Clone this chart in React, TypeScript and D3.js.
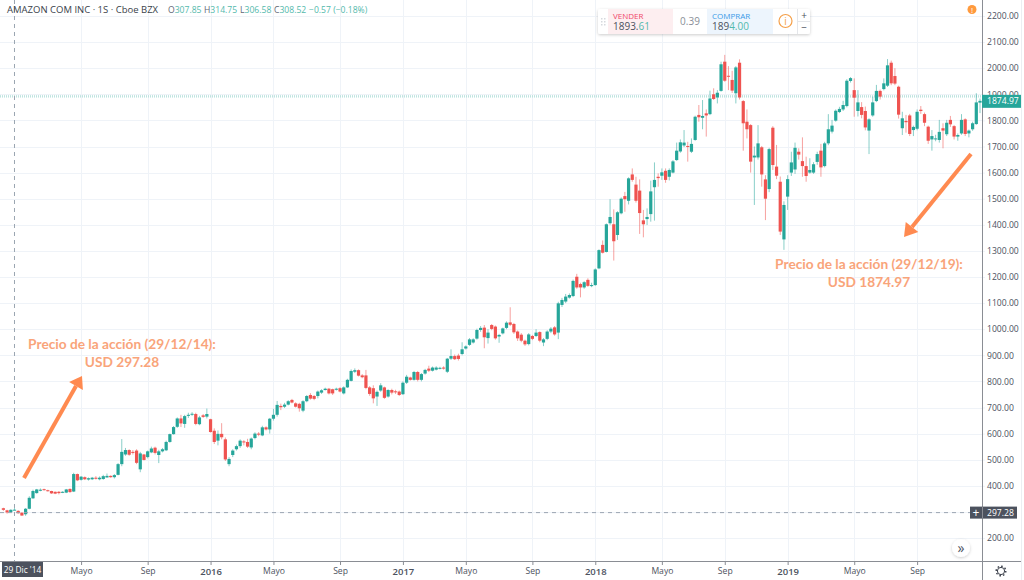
import { useEffect, useRef } from 'react';
import * as d3 from 'd3';

// weekly candles, first candle is three weeks before 29 Dic '14
const firstWeek = -3;

const openPrices = [
  314, 306, 299, 307.85, 304, 297, 291, 312, 352, 372,
  381, 387, 383, 380, 377, 377, 375, 374, 388, 378,
  445, 423, 433, 424, 425, 431, 425, 426, 432, 438,
  433, 442, 483, 520, 537, 530, 535, 463, 520, 510,
  528, 546, 518, 532, 536, 568, 598, 626, 658, 637,
  668, 674, 675, 636, 670, 665, 655, 611, 573, 599,
  578, 483, 518, 540, 552, 570, 568, 547, 583, 600,
  593, 624, 616, 657, 672, 706, 703, 711, 729, 716,
  714, 688, 724, 748, 744, 744, 757, 767, 772, 770,
  768, 774, 754, 777, 802, 837, 843, 823, 823, 777,
  774, 742, 765, 777, 742, 767, 762, 761, 751, 795,
  815, 806, 836, 806, 830, 849, 841, 845, 850, 853,
  837, 887, 897, 899, 905, 926, 940, 949, 964, 997,
  1006, 966, 1016, 1010, 972, 984, 1005, 1026, 1020, 991,
  979, 956, 943, 974, 974, 989, 949, 963, 991, 1007,
  987, 1093, 1106, 1121, 1127, 1201, 1173, 1160, 1189, 1167,
  1169, 1233, 1323, 1296, 1406, 1402, 1361, 1444, 1510, 1492,
  1593, 1554, 1531, 1417, 1422, 1441, 1544, 1584, 1588, 1607,
  1584, 1600, 1648, 1681, 1704, 1702, 1680, 1725, 1821, 1810,
  1827, 1824, 1900, 1888, 1913, 2025, 1971, 1955, 1904, 2021,
  1874, 1795, 1782, 1658, 1658, 1697, 1574, 1537, 1772, 1623,
  1565, 1344, 1508, 1600, 1612, 1680, 1644, 1625, 1600, 1600,
  1641, 1684, 1625, 1712, 1757, 1799, 1832, 1842, 1855, 1951,
  1916, 1836, 1851, 1836, 1761, 1819, 1874, 1913, 1920, 1933,
  2021, 1970, 1929, 1770, 1798, 1819, 1763, 1768, 1841, 1824,
  1776, 1727, 1729, 1725, 1770, 1747, 1802, 1778, 1738, 1750,
  1804, 1750, 1766, 1786, 1868,
];

const highPrices = [
  316, 308, 310, 314.75, 306, 298, 315, 360, 385, 388,
  390, 389, 385, 381, 378, 380, 379, 388, 390, 450,
  447, 437, 436, 432, 434, 437, 436, 442, 447, 440,
  445, 487, 579, 545, 540, 537, 540, 530, 522, 535,
  550, 550, 538, 545, 573, 600, 629, 662, 672, 672,
  680, 682, 680, 668, 675, 696, 657, 620, 612, 640,
  585, 510, 540, 558, 578, 575, 580, 585, 605, 606,
  630, 628, 660, 695, 725, 715, 718, 728, 733, 720,
  718, 728, 748, 755, 748, 765, 770, 776, 775, 772,
  776, 778, 781, 810, 846, 850, 846, 828, 844, 782,
  785, 765, 793, 780, 770, 772, 768, 765, 800, 825,
  818, 840, 840, 832, 848, 860, 857, 858, 856, 858,
  890, 923, 903, 906, 950, 938, 966, 965, 1002, 1012,
  1016, 1000, 1020, 1014, 982, 1006, 1030, 1084, 1024, 995,
  985, 960, 985, 978, 1000, 992, 966, 996, 1008, 1012,
  1105, 1120, 1135, 1137, 1190, 1212, 1178, 1184, 1195, 1178,
  1233, 1306, 1340, 1405, 1498, 1459, 1452, 1505, 1526, 1582,
  1616, 1584, 1574, 1457, 1463, 1569, 1639, 1597, 1616, 1616,
  1616, 1648, 1715, 1727, 1763, 1718, 1731, 1818, 1859, 1878,
  1842, 1914, 1923, 1916, 2025, 2051, 2008, 1990, 2008, 2034,
  1878, 1842, 1786, 1700, 1782, 1702, 1590, 1695, 1778, 1706,
  1585, 1490, 1590, 1680, 1715, 1693, 1735, 1661, 1655, 1640,
  1680, 1710, 1718, 1824, 1802, 1842, 1852, 1875, 1958, 1966,
  1961, 1916, 1870, 1853, 1808, 1891, 1936, 1918, 1961, 2035,
  2029, 2000, 1933, 1833, 1821, 1825, 1780, 1842, 1855, 1830,
  1780, 1763, 1745, 1802, 1789, 1802, 1817, 1782, 1750, 1824,
  1808, 1765, 1795, 1904, 1884,
];

const lowPrices = [
  304, 293, 298, 306.58, 293, 285, 285, 310, 350, 370,
  379, 382, 378, 369, 368, 367, 372, 372, 373, 376,
  418, 420, 422, 420, 422, 424, 421, 423, 431, 431,
  428, 440, 475, 515, 515, 520, 483, 452, 497, 505,
  525, 520, 487, 528, 533, 565, 596, 622, 625, 622,
  660, 668, 632, 632, 660, 658, 604, 560, 555, 578,
  495, 475, 510, 535, 545, 555, 545, 540, 578, 590,
  590, 612, 600, 650, 665, 690, 698, 708, 716, 700,
  684, 682, 720, 730, 728, 735, 752, 765, 750, 748,
  765, 758, 750, 775, 800, 832, 819, 812, 770, 745,
  716, 706, 760, 733, 738, 750, 752, 744, 748, 790,
  803, 803, 800, 800, 826, 836, 838, 842, 846, 845,
  832, 882, 882, 880, 900, 922, 936, 945, 960, 990,
  927, 945, 996, 960, 948, 980, 1000, 1012, 982, 955,
  950, 936, 938, 958, 970, 950, 935, 958, 985, 975,
  962, 1085, 1100, 1117, 1123, 1155, 1122, 1155, 1162, 1161,
  1166, 1230, 1290, 1294, 1400, 1263, 1342, 1440, 1450, 1478,
  1565, 1485, 1365, 1352, 1399, 1412, 1416, 1546, 1572, 1561,
  1570, 1597, 1645, 1676, 1698, 1642, 1675, 1722, 1795, 1766,
  1738, 1820, 1878, 1865, 1910, 1948, 1916, 1905, 1865, 1880,
  1684, 1731, 1600, 1476, 1650, 1546, 1418, 1525, 1610, 1575,
  1361, 1304, 1457, 1587, 1595, 1650, 1584, 1565, 1596, 1595,
  1630, 1584, 1620, 1705, 1750, 1795, 1828, 1836, 1850, 1945,
  1814, 1815, 1808, 1762, 1671, 1814, 1870, 1880, 1915, 1928,
  1935, 1935, 1807, 1744, 1753, 1740, 1740, 1762, 1825, 1778,
  1710, 1684, 1720, 1715, 1693, 1740, 1775, 1727, 1722, 1745,
  1740, 1735, 1760, 1783, 1828,
];

const closePrices = [
  308, 298, 308, 308.52, 295, 286, 312, 354, 380, 386,
  385, 384, 381, 371, 370, 372, 377, 386, 376, 445,
  421, 435, 425, 429, 431, 427, 431, 437, 438, 433,
  441, 483, 530, 537, 519, 526, 488, 524, 499, 532,
  543, 526, 532, 540, 568, 598, 625, 658, 639, 667,
  672, 676, 637, 662, 664, 675, 606, 568, 599, 586,
  501, 503, 535, 552, 573, 567, 550, 581, 600, 596,
  624, 616, 657, 672, 710, 701, 711, 724, 719, 703,
  697, 724, 744, 734, 733, 761, 766, 772, 754, 754,
  772, 761, 777, 806, 840, 843, 822, 816, 775, 752,
  735, 760, 785, 737, 767, 757, 760, 748, 795, 818,
  806, 836, 806, 828, 844, 841, 853, 853, 852, 849,
  887, 897, 885, 886, 923, 934, 961, 961, 997, 1005,
  969, 987, 1001, 965, 978, 1003, 1025, 1017, 988, 965,
  956, 942, 980, 963, 987, 956, 961, 991, 1002, 980,
  1099, 1112, 1125, 1131, 1185, 1160, 1160, 1180, 1166, 1169,
  1229, 1303, 1293, 1402, 1430, 1337, 1448, 1500, 1498, 1578,
  1572, 1492, 1445, 1402, 1430, 1528, 1572, 1579, 1601, 1572,
  1610, 1643, 1684, 1716, 1715, 1699, 1710, 1814, 1812, 1817,
  1819, 1884, 1882, 1906, 2015, 1952, 1969, 1914, 2003, 1888,
  1789, 1766, 1642, 1665, 1712, 1593, 1500, 1690, 1629, 1588,
  1374, 1476, 1575, 1639, 1695, 1669, 1625, 1587, 1610, 1632,
  1671, 1620, 1712, 1766, 1780, 1837, 1844, 1859, 1952, 1962,
  1887, 1869, 1821, 1773, 1804, 1869, 1913, 1891, 1942, 2011,
  1942, 1941, 1822, 1808, 1793, 1748, 1775, 1833, 1836, 1791,
  1722, 1740, 1731, 1756, 1761, 1791, 1785, 1738, 1744, 1802,
  1748, 1761, 1789, 1869, 1874.97,
];

const priceTicks = [200, 300, 400, 500, 600, 700, 800, 900, 1000, 1100, 1200, 1300, 1400, 1500, 1600, 1700, 1800, 1900, 2000, 2100, 2200];
const timeTickWeeks = [18, 36, 53, 70, 88, 105, 122, 140, 157, 175, 192, 209, 227, 244];
const timeTickLabels = ['Mayo', 'Sep', '2016', 'Mayo', 'Sep', '2017', 'Mayo', 'Sep', '2018', 'Mayo', 'Sep', '2019', 'Mayo', 'Sep'];

const lastPrice = 1874.97;
const markedPrice = 297.28;
const bidPrice = 1893.61;
const askPrice = 1894.0;

const colors = {
  up: '#26a69a',
  down: '#ef5350',
  grid: '#eff3f8',
  axis: '#8a8d94',
  label: '#4c525e',
  tag: '#4c525e',
  orange: '#ff8a50',
  orangeText: '#f9a47a',
  teal: '#53b9ac',
  cross: '#9aa5b1',
};

const uiFont = '"Open Sans", sans-serif';

export default function App() {
  const ref = useRef<SVGSVGElement>(null);

  useEffect(() => {
    const svg = d3.select(ref.current);
    svg.selectAll('*').remove();

    const chartRight = 982;
    const chartBottom = 562;

    const x = d3.scaleLinear().domain([firstWeek, 261]).range([3.4, 980]);
    const y = d3.scaleLinear().domain([200, 2200]).range([538, 16]);

    // grid
    svg
      .append('g')
      .selectAll('line')
      .data(priceTicks)
      .enter()
      .append('line')
      .attr('x1', 0)
      .attr('x2', chartRight)
      .attr('y1', d => Math.round(y(d)) + 0.5)
      .attr('y2', d => Math.round(y(d)) + 0.5)
      .attr('stroke', colors.grid);
    svg
      .append('g')
      .selectAll('line')
      .data(timeTickWeeks)
      .enter()
      .append('line')
      .attr('x1', d => Math.round(x(d)) + 0.5)
      .attr('x2', d => Math.round(x(d)) + 0.5)
      .attr('y1', 0)
      .attr('y2', chartBottom)
      .attr('stroke', colors.grid);

    // bid and ask lines
    svg
      .append('g')
      .selectAll('line')
      .data([bidPrice, askPrice])
      .enter()
      .append('line')
      .attr('x1', 0)
      .attr('x2', chartRight)
      .attr('y1', (d, i) => y(d) + i)
      .attr('y2', (d, i) => y(d) + i)
      .attr('stroke', '#b4e0da')
      .attr('stroke-width', 1.2)
      .attr('stroke-dasharray', '1 1');

    // candles
    const candles = svg
      .append('g')
      .selectAll('g')
      .data(closePrices.map((c, i) => ({ week: firstWeek + i, o: openPrices[i], h: highPrices[i], l: lowPrices[i], c })))
      .enter()
      .append('g')
      .attr('fill', d => (d.c >= d.o ? colors.up : colors.down))
      .attr('stroke', d => (d.c >= d.o ? colors.up : colors.down));
    candles
      .append('line')
      .attr('x1', d => x(d.week))
      .attr('x2', d => x(d.week))
      .attr('y1', d => y(d.h))
      .attr('y2', d => y(d.l))
      .attr('stroke-opacity', 0.55);
    candles
      .append('rect')
      .attr('x', d => x(d.week) - 1.6)
      .attr('width', 3.2)
      .attr('y', d => y(Math.max(d.o, d.c)))
      .attr('height', d => Math.max(1, Math.abs(y(d.o) - y(d.c))))
      .attr('stroke', 'none');

    // crosshair at 29 Dic '14 / 297.28
    svg
      .append('line')
      .attr('x1', 0)
      .attr('x2', chartRight)
      .attr('y1', y(markedPrice))
      .attr('y2', y(markedPrice))
      .attr('stroke', colors.cross)
      .attr('stroke-dasharray', '4 4');
    svg
      .append('line')
      .attr('x1', x(0))
      .attr('x2', x(0))
      .attr('y1', 0)
      .attr('y2', chartBottom)
      .attr('stroke', colors.cross)
      .attr('stroke-dasharray', '4 4');

    // axes
    const yAxis = d3
      .axisRight(y)
      .tickValues(priceTicks)
      .tickSize(3)
      .tickPadding(2)
      .tickFormat(d3.format('.2f') as any);
    svg
      .append('g')
      .attr('transform', `translate(${chartRight},0)`)
      .call(yAxis)
      .call(g => g.select('.domain').remove())
      .call(g => g.selectAll('line').attr('stroke', colors.grid))
      .call(g => g.selectAll('text').attr('fill', colors.label).attr('font-family', uiFont).attr('font-size', 8.6));

    const xAxis = d3
      .axisBottom(x)
      .tickValues(timeTickWeeks)
      .tickSize(3)
      .tickPadding(3)
      .tickFormat((d, i) => timeTickLabels[i]);
    svg
      .append('g')
      .attr('transform', `translate(0,${chartBottom})`)
      .call(xAxis)
      .call(g => g.select('.domain').remove())
      .call(g => g.selectAll('line').attr('stroke', colors.axis))
      .call(g =>
        g
          .selectAll('text')
          .attr('fill', colors.label)
          .attr('font-family', uiFont)
          .attr('font-size', (d, i) => (/^\d/.test(timeTickLabels[i]) ? 9.5 : 8.6))
          .attr('font-weight', (d, i) => (/^\d/.test(timeTickLabels[i]) ? 600 : 400))
      );

    // axis frame
    svg.append('line').attr('x1', chartRight + 0.5).attr('x2', chartRight + 0.5).attr('y1', 0).attr('y2', 580).attr('stroke', colors.axis);
    svg.append('line').attr('x1', 0).attr('x2', 1021).attr('y1', chartBottom - 0.5).attr('y2', chartBottom - 0.5).attr('stroke', colors.axis);
    svg.append('line').attr('x1', 1021.5).attr('x2', 1021.5).attr('y1', 0).attr('y2', 580).attr('stroke', '#eceef2');

    // last price tag
    const lastTag = svg.append('g').attr('transform', `translate(${chartRight},${y(lastPrice)})`);
    lastTag.append('rect').attr('x', 0).attr('y', -6).attr('width', 39).attr('height', 13).attr('fill', colors.up);
    lastTag
      .append('text')
      .attr('x', 5)
      .attr('y', 3.5)
      .attr('fill', '#fff')
      .attr('font-family', uiFont)
      .attr('font-size', 8.6)
      .text(lastPrice.toFixed(2));

    // crosshair price tag
    const markTag = svg.append('g').attr('transform', `translate(${chartRight},${y(markedPrice)})`);
    markTag.append('rect').attr('x', -12).attr('y', -6).attr('width', 47).attr('height', 12).attr('fill', colors.tag);
    markTag.append('text').attr('x', -6).attr('y', 4).attr('text-anchor', 'middle').attr('fill', '#fff').attr('font-family', uiFont).attr('font-size', 12).text('+');
    markTag.append('line').attr('x1', 0.5).attr('x2', 0.5).attr('y1', -6).attr('y2', 6).attr('stroke', colors.axis);
    markTag
      .append('text')
      .attr('x', 5)
      .attr('y', 3)
      .attr('fill', '#fff')
      .attr('font-family', uiFont)
      .attr('font-size', 8.6)
      .text(markedPrice.toFixed(2));

    // crosshair date tag
    const dateTag = svg.append('g').attr('transform', `translate(2,${chartBottom})`);
    dateTag.append('rect').attr('width', 41).attr('height', 15).attr('fill', colors.tag);
    dateTag
      .append('text')
      .attr('x', 20.5)
      .attr('y', 11)
      .attr('text-anchor', 'middle')
      .attr('fill', '#fff')
      .attr('font-family', uiFont)
      .attr('font-size', 8.4)
      .text("29 Dic '14");

    // legend line
    const legend = svg.append('text').attr('y', 13).attr('font-family', uiFont).attr('font-size', 8.6);
    legend.append('tspan').attr('x', 7).attr('fill', '#3a3f4a').attr('font-size', 9.5).text('AMAZON COM INC · 1S · Cboe BZX');
    const ohlc = [
      ['O', openPrices[3].toFixed(2)],
      ['H', highPrices[3].toFixed(2)],
      ['L', lowPrices[3].toFixed(2)],
      ['C', closePrices[3].toFixed(2)],
    ];
    const ohlcX = [168, 204, 240, 274];
    ohlc.forEach(([k, v], i) => {
      legend.append('tspan').attr('x', ohlcX[i]).attr('fill', '#5f6673').text(k);
      legend.append('tspan').attr('fill', colors.teal).text(v);
    });
    legend.append('tspan').attr('x', 309).attr('fill', colors.teal).text('−0.57 (−0.18%)');

    // buy / sell widget
    const panel = svg.append('g').attr('font-family', uiFont);
    const shadow = svg.append('defs').append('filter').attr('id', 'soft').attr('x', '-20%').attr('y', '-30%').attr('width', '140%').attr('height', '160%');
    shadow.append('feDropShadow').attr('dx', 0).attr('dy', 1).attr('stdDeviation', 1.5).attr('flood-color', '#000').attr('flood-opacity', 0.2);
    panel.append('rect').attr('x', 598).attr('y', 9).attr('width', 212).attr('height', 25).attr('rx', 2).attr('fill', '#fff').style('filter', 'url(#soft)');
    panel.append('rect').attr('x', 608).attr('y', 9).attr('width', 65).attr('height', 25).attr('fill', '#fdeef0');
    panel.append('rect').attr('x', 707).attr('y', 9).attr('width', 66).attr('height', 25).attr('fill', '#edf5fd');
    panel.append('text').attr('x', 613).attr('y', 19).attr('fill', '#f0476a').attr('font-size', 8).text('VENDER');
    const bid = panel.append('text').attr('x', 613).attr('y', 30).attr('font-size', 10).attr('fill', colors.label);
    bid.append('tspan').text('1893.');
    bid.append('tspan').attr('fill', colors.teal).text('61');
    panel.append('text').attr('x', 690).attr('y', 25).attr('text-anchor', 'middle').attr('fill', '#8a8f98').attr('font-size', 10).text('0.39');
    panel.append('text').attr('x', 712).attr('y', 19).attr('fill', '#3a9be8').attr('font-size', 8).text('COMPRAR');
    const ask = panel.append('text').attr('x', 712).attr('y', 30).attr('font-size', 10).attr('fill', colors.label);
    ask.append('tspan').text('189');
    ask.append('tspan').attr('fill', colors.teal).text('4.00');
    panel.append('circle').attr('cx', 785.5).attr('cy', 21).attr('r', 6.5).attr('fill', 'none').attr('stroke', '#f5a04a').attr('stroke-width', 1.2);
    panel.append('text').attr('x', 785.5).attr('y', 25).attr('text-anchor', 'middle').attr('fill', '#f5a04a').attr('font-size', 10).text('i');
    panel.append('line').attr('x1', 797.5).attr('x2', 797.5).attr('y1', 9).attr('y2', 34).attr('stroke', '#e4e6ea');
    panel.append('line').attr('x1', 798).attr('x2', 810).attr('y1', 21.5).attr('y2', 21.5).attr('stroke', '#e4e6ea');
    panel.append('text').attr('x', 804).attr('y', 19).attr('text-anchor', 'middle').attr('fill', colors.label).attr('font-size', 10).text('+');
    panel.append('text').attr('x', 804).attr('y', 31).attr('text-anchor', 'middle').attr('fill', colors.label).attr('font-size', 10).text('−');
    d3.range(2).forEach(c =>
      d3.range(3).forEach(r =>
        panel.append('rect').attr('x', 601 + c * 3).attr('y', 18 + r * 3).attr('width', 1.5).attr('height', 1.5).attr('fill', '#d6d9de')
      )
    );

    // alert badge
    svg.append('circle').attr('cx', 972).attr('cy', 9.5).attr('r', 4.5).attr('fill', '#ff9a3d');
    svg.append('text').attr('x', 972).attr('y', 12.5).attr('text-anchor', 'middle').attr('fill', '#fff').attr('font-family', uiFont).attr('font-size', 8).text('!');

    // scroll button
    svg.append('circle').attr('cx', 961).attr('cy', 548).attr('r', 9).attr('fill', '#fff').style('filter', 'url(#soft)');
    svg.append('text').attr('x', 961).attr('y', 553).attr('text-anchor', 'middle').attr('fill', colors.label).attr('font-family', uiFont).attr('font-size', 14).text('»');

    // settings gear
    svg.append('circle').attr('cx', 1001).attr('cy', 571).attr('r', 3.6).attr('fill', 'none').attr('stroke', '#3a3f4a');
    svg.append('circle').attr('cx', 1001).attr('cy', 571).attr('r', 4.8).attr('fill', 'none').attr('stroke', '#3a3f4a').attr('stroke-width', 1.4).attr('stroke-dasharray', '1.6 2.1');

    // annotation arrows
    const arrows = [
      [[24, 478], [76, 386], [82, 376]],
      [[971, 154], [912, 227], [904, 237]],
    ];
    arrows.forEach(([from, neck, tip]) => {
      const line = d3.line();
      svg.append('path').attr('d', line([from, neck])).attr('stroke', colors.orange).attr('stroke-width', 4).attr('fill', 'none');
      const dx = tip[0] - neck[0];
      const dy = tip[1] - neck[1];
      const len = Math.hypot(dx, dy);
      const nx = -dy / len;
      const ny = dx / len;
      const hw = 8;
      svg
        .append('path')
        .attr('d', line([tip, [neck[0] + nx * hw, neck[1] + ny * hw], [neck[0] - nx * hw, neck[1] - ny * hw]]) + 'Z')
        .attr('fill', colors.orange);
    });

    // annotation text
    const notes = [
      { cx: 122, cy: 349, lines: ['Precio de la acción (29/12/14):', 'USD 297.28'] },
      { cx: 869, cy: 269, lines: ['Precio de la acción (29/12/19):', 'USD 1874.97'] },
    ];
    notes.forEach(n => {
      n.lines.forEach((t, i) => {
        svg
          .append('text')
          .attr('x', n.cx)
          .attr('y', n.cy + i * 18)
          .attr('text-anchor', 'middle')
          .attr('fill', colors.orangeText)
          .attr('font-family', 'Lato, sans-serif')
          .attr('font-weight', 700)
          .attr('font-size', 13.7)
          .text(t);
      });
    });
  }, []);

  return <svg ref={ref} width={1024} height={580} style={{ position: 'absolute', left: 0, top: 0, background: '#fff' }} />;
}
